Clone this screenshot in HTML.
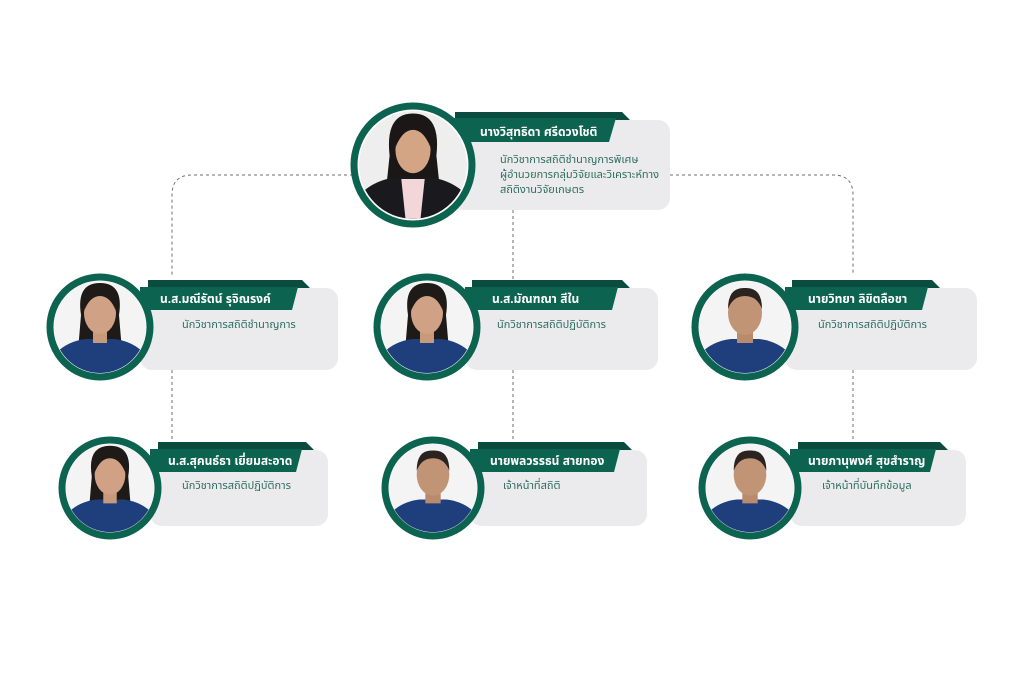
<!DOCTYPE html>
<html><head><meta charset="utf-8"><style>
html,body{margin:0;padding:0;background:#fff;}
svg{display:block;}
text{font-family:"Liberation Sans","Noto Sans Thai","Loma","Garuda",sans-serif;}
.nm{fill:#fff;font-weight:bold;font-size:12px;}
.tt{fill:#2f6e5c;font-size:11px;}
.card{fill:#ebebed;}
.ring{fill:#fff;stroke:#0c6350;stroke-width:7;}
.dash{fill:none;stroke:#6f6f6f;stroke-width:1;stroke-dasharray:3,3;}
</style></head><body>
<svg width="1024" height="683" viewBox="0 0 1024 683" xmlns="http://www.w3.org/2000/svg">
<defs>
<clipPath id="cp" clipPathUnits="userSpaceOnUse"><circle cx="0" cy="0" r="46"/></clipPath>
<g id="man">
 <rect x="-50" y="-50" width="100" height="100" fill="#f4f4f4"/>
 <path d="M-50 50 L-44 26 Q-32 14 -14 12 L14 12 Q32 14 44 26 L50 50 Z" fill="#1f3f7c"/>
 <rect x="-8" y="0" width="16" height="16" fill="#b98a6c"/>
 <ellipse cx="0" cy="-14" rx="17" ry="22" fill="#c29476"/>
 <path d="M-17 -18 Q-17 -40 0 -39 Q17 -40 17 -18 Q12 -31 0 -31 Q-12 -31 -17 -18Z" fill="#2a2320"/>
</g>
<g id="woman">
 <rect x="-50" y="-50" width="100" height="100" fill="#f4f4f4"/>
 <path d="M-19 -12 Q-24 -44 0 -44 Q24 -44 19 -12 L22 24 L-22 24Z" fill="#1e1a18"/>
 <path d="M-50 50 L-44 26 Q-32 14 -14 12 L14 12 Q32 14 44 26 L50 50 Z" fill="#1f3f7c"/>
 <rect x="-7" y="0" width="14" height="16" fill="#c79a7c"/>
 <ellipse cx="0" cy="-14" rx="16" ry="21" fill="#d0a184"/>
 <path d="M-16 -16 Q-15 -38 0 -37 Q15 -38 16 -16 Q10 -31 0 -31 Q-10 -31 -16 -16Z" fill="#1e1a18"/>
</g>
<g id="boss">
 <rect x="-50" y="-50" width="100" height="100" fill="#eeeeee"/>
 <path d="M-20 -8 Q-24 -44 0 -44 Q24 -44 20 -8 L24 30 L-24 30Z" fill="#1b1716"/>
 <path d="M-48 50 L-42 22 Q-30 12 -12 10 L12 10 Q30 12 42 22 L48 50 Z" fill="#1a1a1e"/>
 <path d="M-10 12 L10 12 L6 50 L-6 50Z" fill="#f2d6d8"/>
 <ellipse cx="0" cy="-13" rx="15" ry="20" fill="#d4a585"/>
 <path d="M-15 -15 Q-14 -37 0 -36 Q14 -37 15 -15 Q9 -30 0 -30 Q-9 -30 -15 -15Z" fill="#1b1716"/>
</g>
</defs>

<path class="dash" d="M455 175 L192 175 Q172 175 172 195 L172 275"/>
<path class="dash" d="M670 175 L833 175 Q853 175 853 195 L853 275"/>
<path class="dash" d="M513 210 L513 282"/>
<path class="dash" d="M172 370 L172 443"/>
<path class="dash" d="M513 370 L513 443"/>
<path class="dash" d="M853 370 L853 443"/>

<rect class="card" x="452" y="120" width="218" height="90" rx="12"/>
<polygon points="455,112 622,112 630,120 455,120" fill="#0a4d3e"/>
<polygon points="452,118 616,118 609,142 452,142" fill="#0c6350"/>
<text class="nm" x="480" y="136">นางวิสุทธิดา  ศรีดวงโชติ</text>
<text class="tt" x="500" y="163">นักวิชาการสถิติชำนาญการพิเศษ</text>
<text class="tt" x="500" y="178">ผู้อำนวยการกลุ่มวิจัยและวิเคราะห์ทาง</text>
<text class="tt" x="500" y="193">สถิติงานวิจัยเกษตร</text>
<circle class="ring" cx="413" cy="165" r="59"/>
<g transform="translate(413,165) scale(1.17)"><g clip-path="url(#cp)"><use href="#boss"/></g></g>

<rect class="card" x="140" y="288" width="198" height="82" rx="12"/>
<polygon points="148,280 302,280 310,288 148,288" fill="#0a4d3e"/>
<polygon points="140,287 298,287 292,310 140,310" fill="#0c6350"/>
<text class="nm" x="160" y="303">น.ส.มณีรัตน์  รุจิณรงค์</text>
<text class="tt" x="182" y="328">นักวิชาการสถิติชำนาญการ</text>
<circle class="ring" cx="100" cy="327" r="50"/>
<g transform="translate(100,327) scale(1.0)"><g clip-path="url(#cp)"><use href="#woman"/></g></g>

<rect class="card" x="465" y="288" width="193" height="82" rx="12"/>
<polygon points="472,280 622,280 630,288 472,288" fill="#0a4d3e"/>
<polygon points="465,287 618,287 612,310 465,310" fill="#0c6350"/>
<text class="nm" x="492" y="303">น.ส.มัณฑณา  สีใน</text>
<text class="tt" x="497" y="328">นักวิชาการสถิติปฏิบัติการ</text>
<circle class="ring" cx="427" cy="327" r="50"/>
<g transform="translate(427,327) scale(1.0)"><g clip-path="url(#cp)"><use href="#woman"/></g></g>

<rect class="card" x="785" y="288" width="192" height="82" rx="12"/>
<polygon points="792,280 932,280 940,288 792,288" fill="#0a4d3e"/>
<polygon points="785,287 928,287 922,310 785,310" fill="#0c6350"/>
<text class="nm" x="808" y="303">นายวิทยา  ลิขิตลือชา</text>
<text class="tt" x="818" y="328">นักวิชาการสถิติปฏิบัติการ</text>
<circle class="ring" cx="745" cy="327" r="50"/>
<g transform="translate(745,327) scale(1.0)"><g clip-path="url(#cp)"><use href="#man"/></g></g>

<rect class="card" x="150" y="450" width="178" height="76" rx="12"/>
<polygon points="158,442 306,442 314,450 158,450" fill="#0a4d3e"/>
<polygon points="150,449 302,449 296,472 150,472" fill="#0c6350"/>
<text class="nm" x="168" y="465">น.ส.สุคนธ์ธา  เยี่ยมสะอาด</text>
<text class="tt" x="182" y="489">นักวิชาการสถิติปฏิบัติการ</text>
<circle class="ring" cx="110" cy="488" r="48"/>
<g transform="translate(110,488) scale(0.96)"><g clip-path="url(#cp)"><use href="#woman"/></g></g>

<rect class="card" x="470" y="450" width="177" height="76" rx="12"/>
<polygon points="478,442 624,442 632,450 478,450" fill="#0a4d3e"/>
<polygon points="470,449 620,449 614,472 470,472" fill="#0c6350"/>
<text class="nm" x="490" y="465">นายพลวรรธน์  สายทอง</text>
<text class="tt" x="503" y="489">เจ้าหน้าที่สถิติ</text>
<circle class="ring" cx="433" cy="488" r="48"/>
<g transform="translate(433,488) scale(0.96)"><g clip-path="url(#cp)"><use href="#man"/></g></g>

<rect class="card" x="790" y="450" width="176" height="76" rx="12"/>
<polygon points="798,442 940,442 948,450 798,450" fill="#0a4d3e"/>
<polygon points="790,449 936,449 930,472 790,472" fill="#0c6350"/>
<text class="nm" x="808" y="465">นายภานุพงศ์  สุขสำราญ</text>
<text class="tt" x="822" y="489">เจ้าหน้าที่บันทึกข้อมูล</text>
<circle class="ring" cx="750" cy="488" r="48"/>
<g transform="translate(750,488) scale(0.96)"><g clip-path="url(#cp)"><use href="#man"/></g></g>
</svg>
</body></html>
